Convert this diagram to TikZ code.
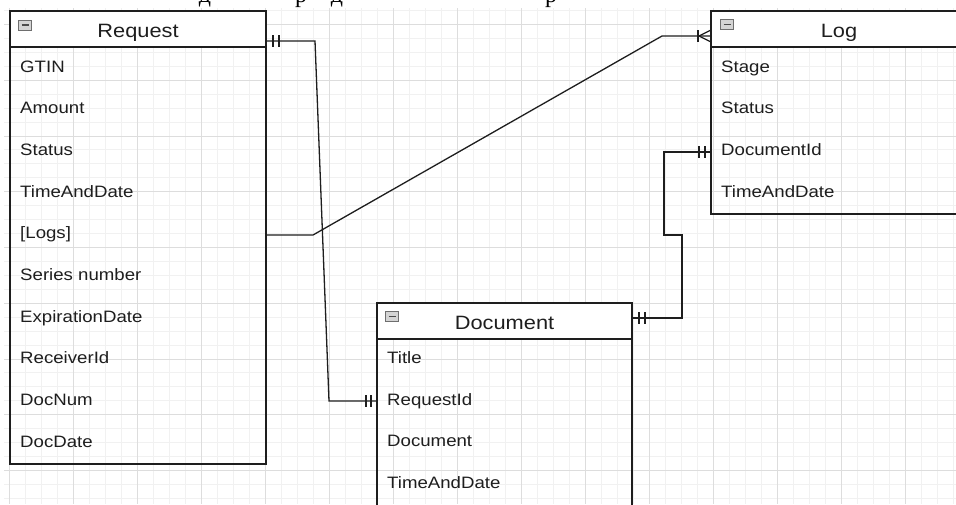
\documentclass[tikz,border=0pt]{standalone}
\usepackage{fontspec}
\usetikzlibrary{calc}
\setmainfont{Liberation Sans}
\newfontfamily\uifont[FakeStretch=1.13]{Liberation Sans}
\newfontfamily\cyrserif{Liberation Serif}
\definecolor{gridmaj}{HTML}{DDDDDD}
\definecolor{gridmin}{HTML}{F1F1F1}
\definecolor{ink}{HTML}{1E1E1E}
\definecolor{iconfill}{HTML}{D4D4D4}
\definecolor{iconline}{HTML}{6E6E6E}
\begin{document}
\begin{tikzpicture}[x=1pt,y=-1pt,
  hdr/.style={draw=ink, line width=1.4pt, fill=white, minimum width=256pt, minimum height=36pt, inner sep=0pt, outer sep=0pt, anchor=north west},
  bodybox/.style={draw=ink, line width=1.4pt, inner sep=0pt, outer sep=0pt, minimum width=256pt, anchor=north west},
  htext/.style={anchor=base, inner sep=0pt, text=ink, font=\uifont\fontsize{19.3}{22}\selectfont},
  rowtext/.style={anchor=base west, inner sep=0pt, text=ink, font=\uifont\fontsize{16.5}{19}\selectfont},
  icon/.style={draw=iconline, fill=iconfill, line width=1pt, minimum width=13pt, minimum height=10pt, inner sep=0pt,
    path picture={\draw[ink!80, line width=1.4pt] ([xshift=-3.5pt]path picture bounding box.center) -- ([xshift=3.5pt]path picture bounding box.center);}},
  conn/.style={draw=ink, line width=1.3pt},
  topglyph/.style={anchor=base, inner sep=0pt, text=black, font=\cyrserif\fontsize{24}{26}\selectfont},
]
\useasboundingbox (0,0) rectangle (956,504);
\fill[white] (0,0) rectangle (956,504);

% grid
\begin{scope}
\clip (4,8) rectangle (956,504);
\foreach \i in {0,...,59} \draw[gridmin, line width=1pt] ({9+16*\i},8) -- ({9+16*\i},504);
\foreach \j in {-1,...,34} \draw[gridmin, line width=1pt] (4,{24.5+13.9375*\j}) -- (956,{24.5+13.9375*\j});
\foreach \k in {0,...,14} \draw[gridmaj, line width=1pt] ({9+64*\k},8) -- ({9+64*\k},504);
\foreach \k in {0,...,8} \draw[gridmaj, line width=1pt] (4,{24.5+55.75*\k}) -- (956,{24.5+55.75*\k});
\end{scope}

% cut-off text above
\begin{scope}
\clip (0,0) rectangle (956,504);
\node[topglyph] (tg1) at (205,2) {д};
\node[topglyph] (tg2) at (301,2) {р};
\node[topglyph] (tg3) at (337,2) {д};
\node[topglyph] (tg4) at (551,2) {р};
\end{scope}

% Request
\node[bodybox, minimum height=417pt] (reqB) at (10,47) {};
\node[hdr] (reqH) at (10,11) {};
\node[htext] (reqT) at (138,37.4) {Request};
\node[icon] (reqI) at (25.3,25) {};
\node[rowtext] (r0) at (20,72) {GTIN};
\node[rowtext] (r1) at (20,113.7) {Amount};
\node[rowtext] (r2) at (20,155.4) {Status};
\node[rowtext] (r3) at (20,197.1) {TimeAndDate};
\node[rowtext] (r4) at (20,238.8) {[Logs]};
\node[rowtext] (r5) at (20,280.5) {Series number};
\node[rowtext] (r6) at (20,322.2) {ExpirationDate};
\node[rowtext] (r7) at (20,363.9) {ReceiverId};
\node[rowtext] (r8) at (20,405.6) {DocNum};
\node[rowtext] (r9) at (20,447.3) {DocDate};

% Log
\begin{scope}
\clip (0,0) rectangle (956,504);
\node[bodybox, minimum height=167pt] (logB) at (711,47) {};
\node[hdr] (logH) at (711,11) {};
\end{scope}
\node[htext] (logT) at (839,37.4) {Log};
\node[icon] (logI) at (727,24.5) {};
\node[rowtext] (l0) at (721,72) {Stage};
\node[rowtext] (l1) at (721,113.7) {Status};
\node[rowtext] (l2) at (721,155.4) {DocumentId};
\node[rowtext] (l3) at (721,197.1) {TimeAndDate};

% Document
\begin{scope}
\clip (0,0) rectangle (956,504);
\node[bodybox, minimum width=255pt, minimum height=167pt] (docB) at (377,339) {};
\node[hdr, minimum width=255pt] (docH) at (377,303) {};
\end{scope}
\node[htext] (docT) at (504.5,329) {Document};
\node[icon] (docI) at (392.3,316.5) {};
\node[rowtext] (d0) at (387,363.5) {Title};
\node[rowtext] (d1) at (387,405.2) {RequestId};
\node[rowtext] (d2) at (387,446.9) {Document};
\node[rowtext] (d3) at (387,488.6) {TimeAndDate};

% connector 1: Request -> Document.RequestId
\coordinate (c1a) at ([yshift=-12pt]reqH.east);
\coordinate (c1b) at (docB.west |- 0,401);
\draw[conn] (c1a) -- (315,41) -- (329,401) -- (c1b);
\draw[conn] ($(c1a)+(7,-6)$) -- ++(0,12);
\draw[conn] ($(c1a)+(13,-6)$) -- ++(0,12);
\draw[conn] ($(c1b)+(-11,-6)$) -- ++(0,12);
\draw[conn] ($(c1b)+(-6,-6)$) -- ++(0,12);

% connector 2: Request.[Logs] -> Log
\coordinate (c2a) at (reqB.east |- 0,235);
\coordinate (c2b) at (logH.west |- 0,36);
\draw[conn] (c2a) -- (313,235) -- (662,36) -- (c2b);
\draw[conn] ($(c2b)+(-13,-6)$) -- ++(0,12);
\draw[conn] ($(c2b)+(-12,0)$) -- ($(c2b)+(0,-6)$);
\draw[conn] ($(c2b)+(-12,0)$) -- ($(c2b)+(0,6)$);

% connector 3: Document -> Log.DocumentId
\coordinate (c3a) at (docH.east |- 0,318);
\coordinate (c3b) at (logB.west |- 0,152);
\draw[conn] (c3a) -- (682,318) -- (682,235) -- (664,235) -- (664,152) -- (c3b);
\draw[conn] ($(c3a)+(7,-6)$) -- ++(0,12);
\draw[conn] ($(c3a)+(13,-6)$) -- ++(0,12);
\draw[conn] ($(c3b)+(-12,-6)$) -- ++(0,12);
\draw[conn] ($(c3b)+(-6,-6)$) -- ++(0,12);
\end{tikzpicture}
\end{document}
